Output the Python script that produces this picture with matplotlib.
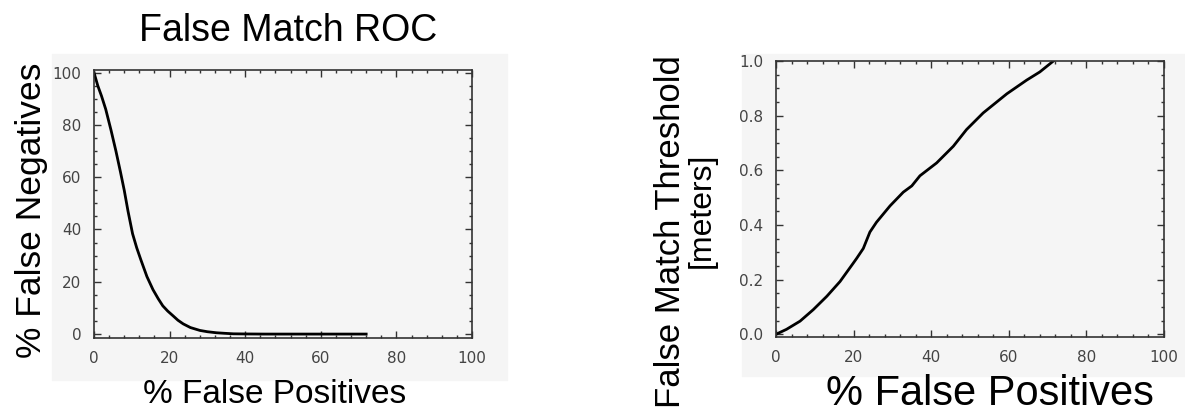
import matplotlib.pyplot as plt
from matplotlib.patches import Rectangle
from matplotlib.ticker import AutoMinorLocator, MultipleLocator

# Curva ROC: % falsos positivos vs % falsos negativos
fp_roc = [0, 1, 2, 3.1, 4.5, 5.8, 7, 8, 9, 10.2, 11.3, 12.4, 14, 15.6, 17, 18.2, 19.5,
          20.9, 22.2, 23.6, 25.5, 28, 30, 32.4, 34.5, 36.9, 40, 45, 55, 65, 72]
fn_roc = [100, 95, 91, 86, 78, 70, 62, 55, 47, 38.4, 33, 28.4, 22, 17, 13.5, 10.8, 8.8,
          7, 5.3, 3.9, 2.5, 1.4, 0.9, 0.5, 0.3, 0.1, 0.05, 0, 0, 0, 0]

# Umbral de coincidencia falsa vs % falsos positivos
fp_thr = [0, 2.7, 6.2, 9.6, 13.1, 16.5, 19.9, 20.8, 22.5, 24.2, 25.9, 29.4, 32.8, 35,
          37.1, 41.4, 45.7, 49.1, 53.4, 59.5, 64.6, 68, 71.5]
umbral = [0, 0.018, 0.048, 0.09, 0.139, 0.193, 0.26, 0.278, 0.314, 0.374, 0.41, 0.47,
          0.52, 0.543, 0.58, 0.627, 0.688, 0.749, 0.81, 0.88, 0.93, 0.96, 1.0]

W, H = 1185, 415
gris = '#f5f5f5'
fuente = 'Liberation Sans'

fig = plt.figure(figsize=(W / 100, H / 100), dpi=100)
fig.patch.set_facecolor('white')

# Paneles grises de fondo (detras de los ejes)
fig.patches.append(Rectangle((52 / W, 1 - 380 / H), 455 / W, 326 / H,
                             transform=fig.transFigure, color=gris, zorder=-5))
fig.patches.append(Rectangle((742 / W, 1 - 376 / H), 443 / W, 322 / H,
                             transform=fig.transFigure, color=gris, zorder=-5))


def estilo(ax, y_major, y_minor_n):
    ax.set_facecolor(gris)
    ax.set_xlim(0, 100)
    ax.xaxis.set_major_locator(MultipleLocator(20))
    ax.xaxis.set_minor_locator(AutoMinorLocator(5))
    ax.yaxis.set_major_locator(MultipleLocator(y_major))
    ax.yaxis.set_minor_locator(AutoMinorLocator(y_minor_n))
    ax.tick_params(which='both', direction='in', top=True, right=True,
                   colors='#333333', labelcolor='#444444', labelsize=11)
    ax.tick_params(which='major', length=5, width=1, pad=9)
    ax.tick_params(which='minor', length=2.5, width=1)
    for s in ax.spines.values():
        s.set_color('#333333')
        s.set_linewidth(1.2)


# Grafica izquierda
ax1 = fig.add_axes([94 / W, 1 - 338 / H, 378 / W, 268 / H])
ax1.plot(fp_roc, fn_roc, color='black', linewidth=2)
ax1.set_ylim(-1.5, 101)
estilo(ax1, 20, 4)
fig.text(288 / W, 1 - 31 / H, 'False Match ROC', ha='center', va='center',
         fontsize=27, family=fuente)
fig.text(275 / W, 1 - 394 / H, '% False Positives', ha='center', va='center',
         fontsize=24, family=fuente)
fig.text(32 / W, 1 - 210 / H, '% False Negatives', ha='center', va='center',
         rotation=90, fontsize=25.5, family=fuente)

# Grafica derecha
ax2 = fig.add_axes([776 / W, 1 - 337 / H, 388 / W, 276 / H])
ax2.plot(fp_thr, umbral, color='black', linewidth=2)
ax2.set_ylim(-0.01, 1.0)
estilo(ax2, 0.2, 4)
ax2.yaxis.set_major_formatter(plt.FormatStrFormatter('%.1f'))
fig.text(990 / W, 1 - 394 / H, '% False Positives', ha='center', va='center',
         fontsize=30, family=fuente)
fig.text(670 / W, 1 - 232 / H, 'False Match Threshold', ha='center', va='center',
         rotation=90, fontsize=25, family=fuente)
fig.text(702 / W, 1 - 210 / H, '[meters]', ha='center', va='center',
         rotation=90, fontsize=23, family=fuente)

plt.savefig('out.png', dpi=100)
